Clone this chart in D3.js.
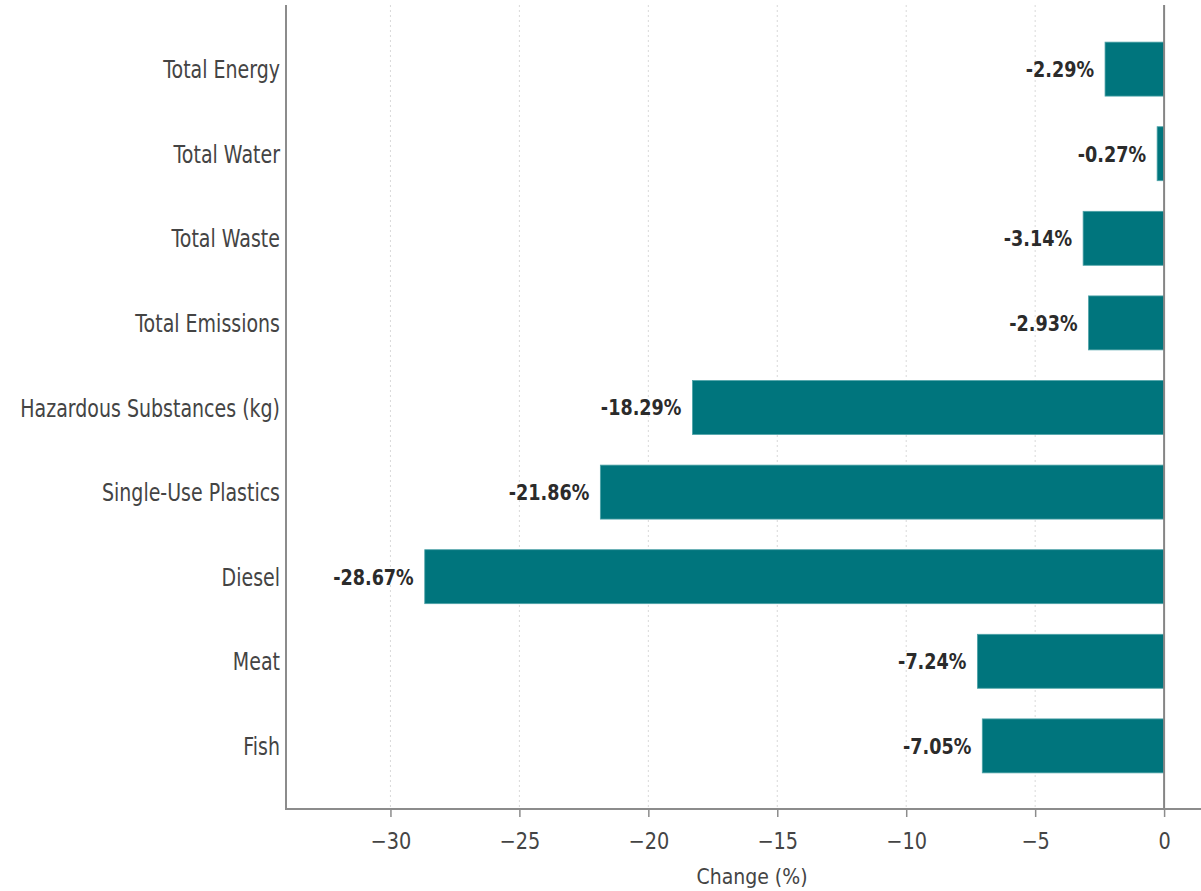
<!DOCTYPE html>
<html><head><meta charset="utf-8">
<script src="https://cdn.jsdelivr.net/npm/d3@7"></script>
<style>html,body{margin:0;padding:0;background:#fff;overflow:hidden}</style>
</head><body>
<svg id="c" width="1201" height="891"></svg>
<script>
const categories = ["Total Energy","Total Water","Total Waste","Total Emissions","Hazardous Substances (kg)","Single-Use Plastics","Diesel","Meat","Fish"];
const changes = [-2.29,-0.27,-3.14,-2.93,-18.29,-21.86,-28.67,-7.24,-7.05];
const xTicks = [-30,-25,-20,-15,-10,-5,0];
const xLabel = "Change (%)";

(function(){
const svg = d3.select("#c");
const F = "DejaVu Sans";
const x = d3.scaleLinear().domain([-34.05, 2.09]).range([286, 1218]);
const y = d3.scaleBand().domain(categories).range([5.5, 809.5]).paddingInner(0.362).paddingOuter(0.433);
const yTop = 5, yBot = 809;

// grid
svg.append("g").selectAll("line").data(xTicks).join("line")
  .attr("x1", d => x(d)).attr("x2", d => x(d)).attr("y1", yTop).attr("y2", yBot)
  .attr("stroke", "#d9d9d9").attr("stroke-width", 1).attr("stroke-dasharray", "2,3");

// bars
svg.append("g").selectAll("rect").data(categories).join("rect")
  .attr("x", (d,i) => x(changes[i])).attr("width", (d,i) => x(0) - x(changes[i]))
  .attr("y", d => y(d)).attr("height", y.bandwidth())
  .attr("fill", "#00757d").attr("stroke", "#4fa3a8").attr("stroke-width", 0.8);

// zero line
svg.append("line").attr("x1", x(0)).attr("x2", x(0)).attr("y1", yTop).attr("y2", yBot)
  .attr("stroke", "#858585").attr("stroke-width", 2);

// left spine
svg.append("line").attr("x1", 286).attr("x2", 286).attr("y1", yTop).attr("y2", yBot+1)
  .attr("stroke", "#8c8c8c").attr("stroke-width", 2);

// x axis
const xAxis = d3.axisBottom(x).tickValues(xTicks).tickSize(8).tickPadding(6).tickSizeOuter(0);
const gx = svg.append("g").attr("transform", `translate(0,${yBot})`).call(xAxis);
gx.select(".domain").attr("stroke", "#8c8c8c").attr("stroke-width", 2).attr("d", `M286,0H1218`);
gx.selectAll(".tick line").attr("stroke", "#8c8c8c").attr("stroke-width", 1.5);
gx.selectAll(".tick text")
  .attr("fill", "#444").attr("font-family", F).attr("font-size", 23)
  .attr("dy", null).attr("y", null)
  .attr("text-anchor", "middle")
  .attr("transform", `translate(0,40) scale(0.84,1)`);

// category labels
svg.append("g").selectAll("text").data(categories).join("text")
  .attr("transform", d => `translate(280,${y(d) + y.bandwidth()/2}) scale(0.76,1)`)
  .attr("text-anchor", "end").attr("dy", "0.36em")
  .attr("font-family", F).attr("font-size", 25).attr("fill", "#444")
  .text(d => d);

// value labels
svg.append("g").selectAll("text").data(categories).join("text")
  .attr("transform", (d,i) => `translate(${x(changes[i]) - 11},${y(d) + y.bandwidth()/2}) scale(0.8,1)`)
  .attr("text-anchor", "end").attr("dy", "0.36em")
  .attr("font-family", F).attr("font-weight", "bold").attr("font-size", 22).attr("fill", "#2b2b2b")
  .text((d,i) => changes[i].toFixed(2) + "%");

// axis label
svg.append("text").attr("transform", `translate(${(286+1218)/2},884) scale(0.86,1)`)
  .attr("text-anchor", "middle").attr("font-family", F).attr("font-size", 22).attr("fill", "#444")
  .text(xLabel);
})();
</script>
</body></html>
